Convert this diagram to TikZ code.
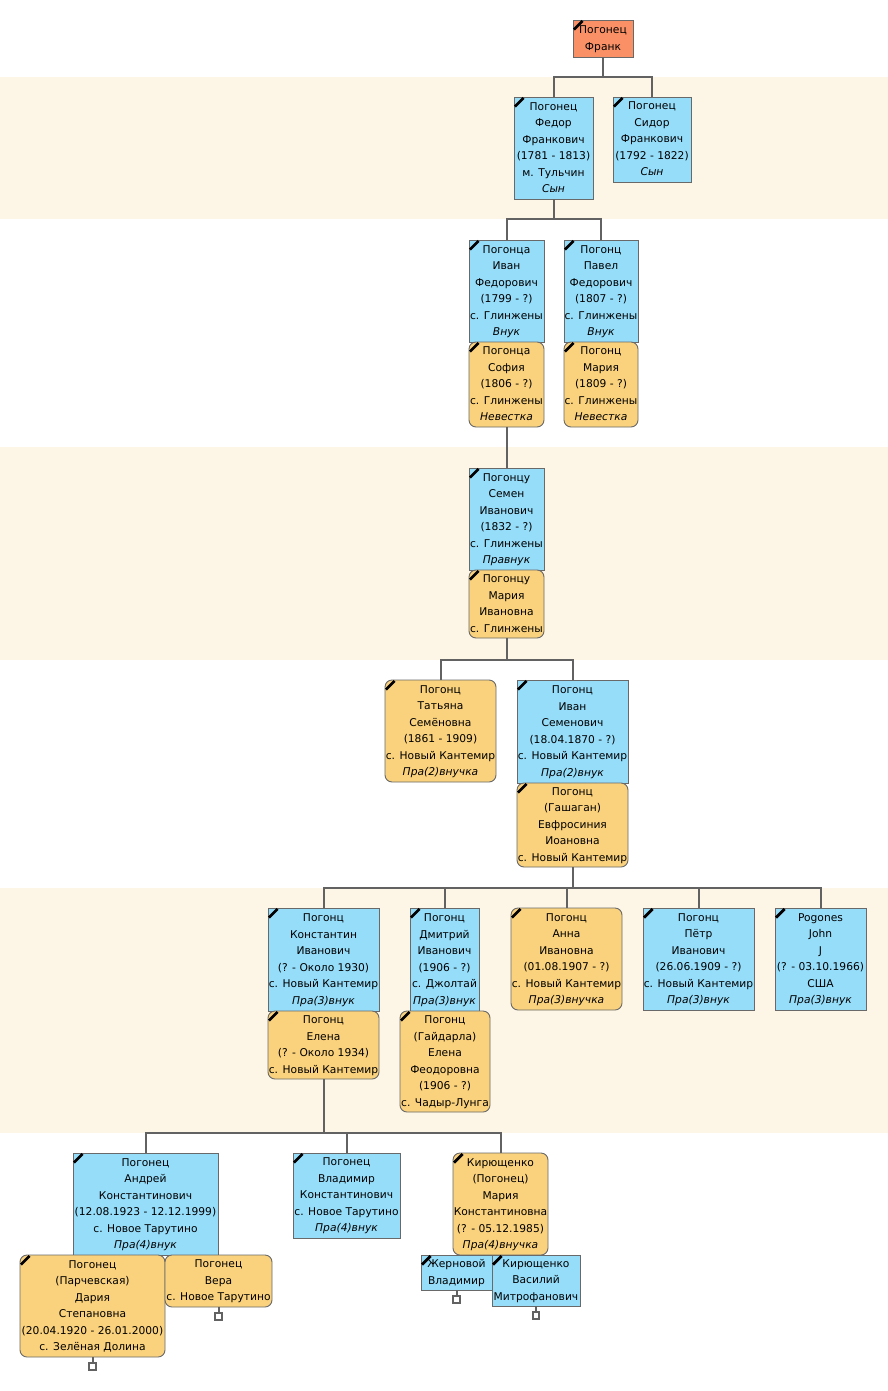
\documentclass[tikz,border=0pt]{standalone}
\usepackage{fontspec}
\setmainfont{DejaVu Sans}
\begin{document}
\begin{tikzpicture}[x=1pt,y=-1pt]
\definecolor{bandc}{RGB}{253,246,230}
\definecolor{malec}{RGB}{150,221,250}
\definecolor{femc}{RGB}{250,209,124}
\definecolor{rootc}{RGB}{250,145,102}
\definecolor{edgec}{RGB}{105,105,105}
\definecolor{connc}{RGB}{98,98,98}
\tikzset{
  pbase/.style={draw=edgec, line width=0.9pt, inner sep=0pt, align=center,
    font=\fontsize{10.7}{16.5}\selectfont, text=black},
  male/.style={pbase, fill=malec},
  fem/.style={pbase, fill=femc, rounded corners=7pt},
  rootbox/.style={pbase, fill=rootc},
  conn/.style={draw=connc, line width=2pt},
  stubbox/.style={draw=connc, fill=white, line width=1.6pt, minimum size=6.5pt, inner sep=0pt},
  dmk/.style={line width=2.8pt, black}
}
\newcommand\pbox[7]{\node[#2, minimum width={#5-#3}, minimum height={#6-#4}] (#1) at ({(#3+#5)/2},{(#4+#6)/2}) {\raisebox{-1pt}{\begin{tabular}{@{}c@{}}#7\end{tabular}}};}
\newcommand\dmk[1]{\draw[dmk] ([shift={(1.4,10)}]#1.north west) -- ([shift={(10,1.4)}]#1.north west);}
\newcommand\rel[1]{\textit{#1}}

\useasboundingbox (0,0) rectangle (888,1391);
\fill[white] (0,0) rectangle (888,1391);
% bands
\fill[bandc] (0,77) rectangle (888,219);
\fill[bandc] (0,447) rectangle (888,660);
\fill[bandc] (0,888) rectangle (888,1133);

\renewcommand\arraystretch{1}
\setlength{\tabcolsep}{0pt}

\pbox{frank}{rootbox}{573}{20}{633}{57}{Погонец\\Франк}
\pbox{fedor}{male}{514}{97}{593}{199}{Погонец\\Федор\\Франкович\\(1781 - 1813)\\м. Тульчин\\\rel{Сын}}
\pbox{sidor}{male}{613}{97}{691}{182}{Погонец\\Сидор\\Франкович\\(1792 - 1822)\\\rel{Сын}}

\pbox{ivan}{male}{469}{240}{544}{342}{Погонца\\Иван\\Федорович\\(1799 - ?)\\с. Глинжены\\\rel{Внук}}
\pbox{sofia}{fem}{469}{342}{544}{427}{Погонца\\София\\(1806 - ?)\\с. Глинжены\\\rel{Невестка}}
\pbox{pavel}{male}{564}{240}{638}{342}{Погонц\\Павел\\Федорович\\(1807 - ?)\\с. Глинжены\\\rel{Внук}}
\pbox{maria}{fem}{564}{342}{638}{427}{Погонц\\Мария\\(1809 - ?)\\с. Глинжены\\\rel{Невестка}}

\pbox{semen}{male}{469}{468}{544}{570}{Погонцу\\Семен\\Иванович\\(1832 - ?)\\с. Глинжены\\\rel{Правнук}}
\pbox{mariai}{fem}{469}{570}{544}{638}{Погонцу\\Мария\\Ивановна\\с. Глинжены}

\pbox{tatiana}{fem}{385}{680}{496}{782}{Погонц\\Татьяна\\Семёновна\\(1861 - 1909)\\с. Новый Кантемир\\\rel{Пра(2)внучка}}
\pbox{ivans}{male}{517}{680}{628}{783}{Погонц\\Иван\\Семенович\\(18.04.1870 - ?)\\с. Новый Кантемир\\\rel{Пра(2)внук}}
\pbox{evfr}{fem}{517}{783}{628}{867}{Погонц\\(Гашаган)\\Евфросиния\\Иоановна\\с. Новый Кантемир}

\pbox{konst}{male}{268}{908}{379}{1011}{Погонц\\Константин\\Иванович\\(? - Около 1930)\\с. Новый Кантемир\\\rel{Пра(3)внук}}
\pbox{elena}{fem}{268}{1011}{379}{1079}{Погонц\\Елена\\(? - Около 1934)\\с. Новый Кантемир}
\pbox{dmitry}{male}{410}{908}{479}{1011}{Погонц\\Дмитрий\\Иванович\\(1906 - ?)\\с. Джолтай\\\rel{Пра(3)внук}}
\pbox{elenaf}{fem}{400}{1011}{490}{1112}{Погонц\\(Гайдарла)\\Елена\\Феодоровна\\(1906 - ?)\\с. Чадыр-Лунга}
\pbox{anna}{fem}{511}{908}{622}{1010}{Погонц\\Анна\\Ивановна\\(01.08.1907 - ?)\\с. Новый Кантемир\\\rel{Пра(3)внучка}}
\pbox{petr}{male}{643}{908}{754}{1010}{Погонц\\Пётр\\Иванович\\(26.06.1909 - ?)\\с. Новый Кантемир\\\rel{Пра(3)внук}}
\pbox{john}{male}{775}{908}{866}{1010}{Pogones\\John\\J\\(? - 03.10.1966)\\США\\\rel{Пра(3)внук}}

\pbox{andrey}{male}{73}{1153}{218}{1255}{Погонец\\Андрей\\Константинович\\(12.08.1923 - 12.12.1999)\\с. Новое Тарутино\\\rel{Пра(4)внук}}
\pbox{daria}{fem}{20}{1255}{165}{1357}{Погонец\\(Парчевская)\\Дария\\Степановна\\(20.04.1920 - 26.01.2000)\\с. Зелёная Долина}
\pbox{vera}{fem}{165}{1255}{272}{1307}{Погонец\\Вера\\с. Новое Тарутино}
\pbox{vlad}{male}{293}{1153}{400}{1238}{Погонец\\Владимир\\Константинович\\с. Новое Тарутино\\\rel{Пра(4)внук}}
\pbox{mariak}{fem}{453}{1153}{548}{1255}{Кирющенко\\(Погонец)\\Мария\\Константиновна\\(? - 05.12.1985)\\\rel{Пра(4)внучка}}
\pbox{zhern}{male}{421}{1255}{492}{1290}{Жерновой\\Владимир}
\pbox{vasil}{male}{492}{1255}{580}{1306}{Кирющенко\\Василий\\Митрофанович}

% corner markers
\foreach \n in {frank,fedor,sidor,ivan,sofia,pavel,maria,semen,mariai,tatiana,ivans,evfr,konst,elena,dmitry,elenaf,anna,petr,john,andrey,daria,vlad,mariak,zhern,vasil}{\dmk{\n}}

% connectors
\draw[conn] (frank.south) -- ++(0,20);
\draw[conn] (fedor.north) -- ++(0,-20) -| (sidor.north);
\draw[conn] (fedor.south) -- ++(0,20);
\draw[conn] (ivan.north) -- ++(0,-21) -| (pavel.north);
\draw[conn] (sofia.south) -- (semen.north);
\draw[conn] (mariai.south) -- ++(0,22);
\draw[conn] (tatiana.north) -- ++(0,-20) -| (ivans.north);
\draw[conn] (evfr.south) -- ++(0,21);
\draw[conn] (konst.north) -- ++(0,-20) -| (john.north);
\draw[conn] (dmitry.north) -- ++(0,-20);
\draw[conn] (anna.north) -- ++(0,-20);
\draw[conn] (petr.north) -- ++(0,-20);
\draw[conn] (elena.south) -- ++(0,54);
\draw[conn] (andrey.north) -- ++(0,-20) -| (mariak.north);
\draw[conn] (vlad.north) -- ++(0,-20);

% stubs
\draw[conn] (daria.south) -- ++(0,5) node[stubbox, anchor=north] (sd) {};
\draw[conn] (vera.south) -- ++(0,5) node[stubbox, anchor=north] (sv) {};
\draw[conn] (zhern.south) -- ++(0,5) node[stubbox, anchor=north] (sz) {};
\draw[conn] (vasil.south) -- ++(0,5) node[stubbox, anchor=north] (sw) {};
\end{tikzpicture}
\end{document}
